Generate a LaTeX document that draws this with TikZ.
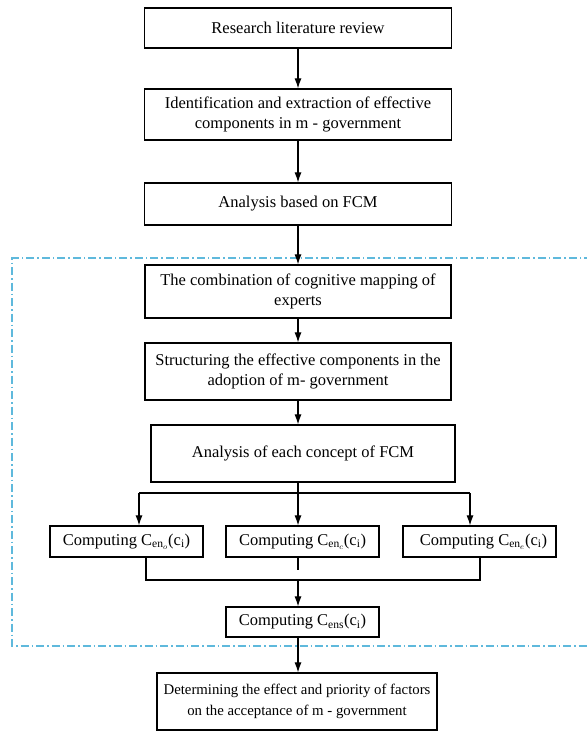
\documentclass[tikz,border=0pt]{standalone}
\usepackage{fontspec}
\setmainfont{Liberation Serif}
\usepackage{xcolor}
\definecolor{frameblue}{RGB}{95,185,220}
\usetikzlibrary{arrows.meta}

\tikzset{
	stepbox/.style={draw, rectangle, line width=1.2pt, align=center, inner sep=2pt, font=\fontsize{16.5}{20.5}\selectfont},
	flow/.style={-{Latex[length=10pt,width=7pt]}, line width=1.1pt},
	link/.style={line width=1.1pt},
	frameline/.style={draw=frameblue, line width=1.1pt, dash pattern=on 8pt off 3pt on 1.5pt off 3pt}
}

\begin{document}
\begin{tikzpicture}[x=1pt, y=1pt, node distance=85pt]
	\useasboundingbox (0,0) rectangle (586,-733);

	\node[stepbox, minimum width=307pt, minimum height=40pt] at (298,-28) (lit){Research literature review};
	
	\node[stepbox, below of= lit, minimum width=307pt, minimum height=51pt, yshift=-1.5pt] (ident){Identification and extraction of effective\\components in m - government};
	
	\node[stepbox, below of= ident, minimum width=307pt, minimum height=42pt, yshift=-4.5pt] (fcm){Analysis based on FCM};
	
	\node[stepbox, below of= fcm, minimum width=306pt, minimum height=53pt, yshift=-2.5pt] (comb){The combination of cognitive mapping of\\experts};
	
	\node[stepbox, below of= comb, minimum width=306pt, minimum height=57pt, yshift=5pt] (struct){Structuring the effective components in the\\adoption of m- government};
	
	\node[stepbox, below of= struct, minimum width=304pt, minimum height=57pt, yshift=3pt, xshift=5pt] (concept){Analysis of each concept of FCM};
	
	\node[stepbox, below of= concept, minimum width=153pt, minimum height=31pt, yshift=-3pt, xshift=-0.5pt] (cmid){Computing C$_{\mathrm{en}_c}$(c$_\mathrm{i}$)};
	
	\node[stepbox, left of= cmid, minimum width=153pt, minimum height=31pt, xshift=-91pt] (cleft){Computing C$_{\mathrm{en}_o}$(c$_\mathrm{i}$)};
	
	\node[stepbox, right of= cmid, minimum width=153pt, minimum height=31pt, xshift=92pt] (cright){\hspace*{8pt}Computing C$_{\mathrm{en}_e}$(c$_\mathrm{i}$)};
	
	\node[stepbox, below of= cmid, minimum width=153pt, minimum height=30pt, yshift=4.5pt] (cens){Computing C$_{\mathrm{ens}}$(c$_\mathrm{i}$)};
	
	\node[stepbox, below of= cens, minimum width=280pt, minimum height=57pt, yshift=5.5pt, xshift=-5.5pt, font=\fontsize{14.8}{20.5}\selectfont] (prio){Determining the effect and priority of factors\\on the acceptance of m - government};
	
	% branch and merge points
	\coordinate (split) at (298,-493);
	\coordinate (bl) at (139,-493);
	\coordinate (br) at (470,-493);
	\coordinate (ml) at (146,-580);
	\coordinate (mr) at (480,-580);
	\coordinate (mj) at (298,-580);
	\coordinate (stub) at (298,-570);
	
	\draw[frameline] (592,-258) -- (12,-258) -- (12,-646) -- (592,-646);
	
	\draw[flow] (lit) -- (ident);
	
	\draw[flow] (ident) -- (fcm);
	
	\draw[flow] (fcm) -- (comb);
	
	\draw[flow] (comb) -- (struct);
	
	\draw[flow] (struct) -- (struct |- concept.north);
	
	\draw[link] (struct |- concept.south) -- (split);
	
	\draw[link] (bl) -- (br);
	
	\draw[flow] (bl) -- (bl |- cleft.north);
	
	\draw[flow] (split) -- (split |- cmid.north);
	
	\draw[flow] (br) -- (br |- cright.north);
	
	\draw[link] (ml |- cleft.south) -- (ml) -- (mr) -- (mr |- cright.south);
	
	\draw[link] (stub |- cmid.south) -- (stub);
	
	\draw[flow] (mj) -- (mj |- cens.north);
	
	\draw[flow] (mj |- cens.south) -- (mj |- prio.north);
\end{tikzpicture}
\end{document}
